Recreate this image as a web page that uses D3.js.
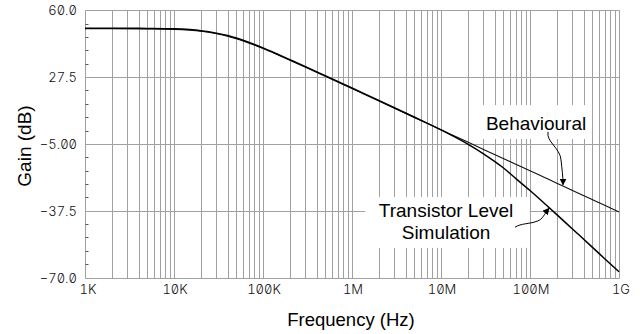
<!DOCTYPE html>
<html>
<head>
<meta charset="utf-8">
<script src="https://cdn.jsdelivr.net/npm/d3@7"></script>
<style>
  html, body { margin: 0; padding: 0; background: #fff; }
  svg { display: block; }
  .tick-label { font-family: Inter, "Liberation Sans", sans-serif; font-size: 13px; font-weight: 300; font-feature-settings: "zero" 1, "tnum" 1; fill: #111; }
  .title { font-family: "Liberation Sans", Arial, sans-serif; fill: #000; }
</style>
</head>
<body>
<div id="chart"></div>
<script>
// frequency points (Hz)
const freqHz = [1e3, 2e3, 5e3, 1e4, 1.5e4, 2e4, 3e4, 4e4, 5e4, 7e4, 1e5, 1.5e5, 2e5, 3e5, 5e5,
  1e6, 2e6, 5e6, 1e7, 2e7, 3e7, 5e7, 7e7, 1e8, 1.5e8, 2e8, 3e8, 5e8, 7e8, 1e9];
// gain (dB)
const behaviouralDb = [51.0, 51.0, 50.9, 50.7, 50.3, 49.8, 48.6, 47.4, 46.2, 44.0, 41.4, 38.1, 35.7, 32.3, 27.9,
  21.9, 15.9, 7.9, 1.9, -4.1, -7.7, -12.1, -15.0, -18.1, -21.6, -24.1, -27.7, -32.1, -35.0, -38.1];
const transistorDb = [51.3, 51.3, 51.2, 51.0, 50.6, 50.1, 48.9, 47.7, 46.5, 44.3, 41.7, 38.4, 36.0, 32.6, 28.2,
  22.2, 16.2, 8.1, 1.8, -5.1, -9.8, -16.6, -22.0, -27.7, -34.5, -39.4, -46.4, -55.2, -61.1, -67.2];

const yTicks = [60, 27.5, -5, -37.5, -70];
const yTickLabels = ["60.0", "27.5", "\u22125.00", "\u221237.5", "\u221270.0"];
const xTicks = [1e3, 1e4, 1e5, 1e6, 1e7, 1e8, 1e9];
const xTickLabels = ["1K", "10K", "100K", "1M", "10M", "100M", "1G"];

const width = 640, height = 334;
const x = d3.scaleLog().domain([1e3, 1e9]).range([85, 619]);
const y = d3.scaleLinear().domain([-70, 60]).range([277.5, 10.3]);

const svg = d3.select('#chart').append('svg')
  .attr('width', width)
  .attr('height', height);

const gridColor = '#a0a0a0';
const crisp = v => Math.round(v) + 0.5;

// vertical log grid
const vLines = [];
for (let dec = 1e3; dec < 1e9; dec *= 10) {
  for (let k = 1; k < 10; k++) vLines.push(dec * k);
}
vLines.push(1e9);

svg.append('g')
  .selectAll('line')
  .data(vLines)
  .join('line')
  .attr('x1', d => crisp(x(d)))
  .attr('x2', d => crisp(x(d)))
  .attr('y1', crisp(y(60)))
  .attr('y2', crisp(y(-70)))
  .attr('stroke', gridColor)
  .attr('stroke-width', 1);

// horizontal grid at major ticks
svg.append('g')
  .selectAll('line')
  .data(yTicks)
  .join('line')
  .attr('x1', crisp(x(1e3)))
  .attr('x2', crisp(x(1e9)))
  .attr('y1', d => crisp(y(d)))
  .attr('y2', d => crisp(y(d)))
  .attr('stroke', gridColor)
  .attr('stroke-width', 1);

// minor ticks on the left axis
const minorY = [];
for (let i = 0; i < yTicks.length - 1; i++) {
  const step = (yTicks[i] - yTicks[i + 1]) / 5;
  for (let k = 1; k < 5; k++) minorY.push(yTicks[i] - step * k);
}
svg.append('g')
  .selectAll('line')
  .data(minorY)
  .join('line')
  .attr('x1', crisp(x(1e3)))
  .attr('x2', crisp(x(1e3)) + 3)
  .attr('y1', d => crisp(y(d)))
  .attr('y2', d => crisp(y(d)))
  .attr('stroke', '#555')
  .attr('stroke-width', 1);

// tick labels
svg.append('g')
  .selectAll('text')
  .data(yTicks)
  .join('text')
  .attr('class', 'tick-label')
  .attr('x', 77)
  .attr('y', d => y(d) + 5)
  .attr('text-anchor', 'end')
  .text((d, i) => yTickLabels[i]);

svg.append('g')
  .selectAll('text')
  .data(xTicks)
  .join('text')
  .attr('class', 'tick-label')
  .attr('x', (d, i) => x(d) + (i === 0 ? 3 : (i === xTicks.length - 1 ? 2 : 1)))
  .attr('y', 294)
  .attr('text-anchor', 'middle')
  .text((d, i) => xTickLabels[i]);

// axis titles
svg.append('text')
  .attr('class', 'title')
  .attr('x', (x(1e3) + x(1e9)) / 2 - 1)
  .attr('y', 325.5)
  .attr('text-anchor', 'middle')
  .style('font-size', '18.5px')
  .text('Frequency (Hz)');

svg.append('text')
  .attr('class', 'title')
  .attr('transform', 'translate(31,146) rotate(-90)')
  .attr('text-anchor', 'middle')
  .style('font-size', '19px')
  .text('Gain (dB)');

// white label boxes (they cut the grid)
const boxes = [
  { f0: 28.1e6, f1: 498e6, db0: 13.9, db1: -2.6 },
  { f0: 1.40e6, f1: 99e6, db0: -30.8, db1: -55.6 }
];
svg.append('g')
  .selectAll('rect')
  .data(boxes)
  .join('rect')
  .attr('x', d => x(d.f0))
  .attr('y', d => y(d.db0))
  .attr('width', d => x(d.f1) - x(d.f0))
  .attr('height', d => y(d.db1) - y(d.db0))
  .attr('fill', '#fff');

// curves
const line = d3.line()
  .x(d => x(d[0]))
  .y(d => y(d[1]))
  .curve(d3.curveMonotoneX);

svg.append('path')
  .datum(freqHz.map((f, i) => [f, behaviouralDb[i]]))
  .attr('fill', 'none')
  .attr('stroke', '#111')
  .attr('stroke-width', 1.1)
  .attr('d', line);

svg.append('path')
  .datum(freqHz.map((f, i) => [f, transistorDb[i]]))
  .attr('fill', 'none')
  .attr('stroke', '#000')
  .attr('stroke-width', 1.5)
  .attr('d', line);

// annotations
const labels = [
  { f: 117e6, db: 2.0, text: 'Behavioural' },
  { f: 11.4e6, db: -40.4, text: 'Transistor Level' },
  { f: 11.4e6, db: -51.4, text: 'Simulation' }
];
svg.append('g')
  .selectAll('text')
  .data(labels)
  .join('text')
  .attr('class', 'title')
  .attr('x', d => x(d.f))
  .attr('y', d => y(d.db))
  .attr('text-anchor', 'middle')
  .style('font-size', '19px')
  .text(d => d.text);

svg.append('defs').append('marker')
  .attr('id', 'arrow')
  .attr('viewBox', '0 0 10 10')
  .attr('refX', 9)
  .attr('refY', 5)
  .attr('markerWidth', 7)
  .attr('markerHeight', 7)
  .attr('markerUnits', 'userSpaceOnUse')
  .attr('orient', 'auto')
  .append('path')
  .attr('d', 'M0,0 L10,5 L0,10 Z')
  .attr('fill', '#000');

// arrow shapes are offsets from the point they touch on the curve
const arrows = [
  { f: 235e6, db: -25.4, d: (px, py) => `M${px - 15},${py - 54} C${px - 17},${py - 44} ${px - 3},${py - 38} ${px - 2},${py - 26} C${px - 1},${py - 16} ${px},${py - 10} ${px},${py - 1}` },
  { f: 168e6, db: -35.8, d: (px, py) => `M${px - 35},${py + 20} C${px - 29},${py + 16} ${px - 21},${py + 17} ${px - 13},${py + 14} C${px - 7},${py + 12} ${px - 6},${py + 7} ${px - 1},${py + 1}` }
];
svg.append('g')
  .selectAll('path')
  .data(arrows)
  .join('path')
  .attr('fill', 'none')
  .attr('stroke', '#000')
  .attr('stroke-width', 1)
  .attr('marker-end', 'url(#arrow)')
  .attr('d', a => a.d(x(a.f), y(a.db)));
</script>
</body>
</html>
